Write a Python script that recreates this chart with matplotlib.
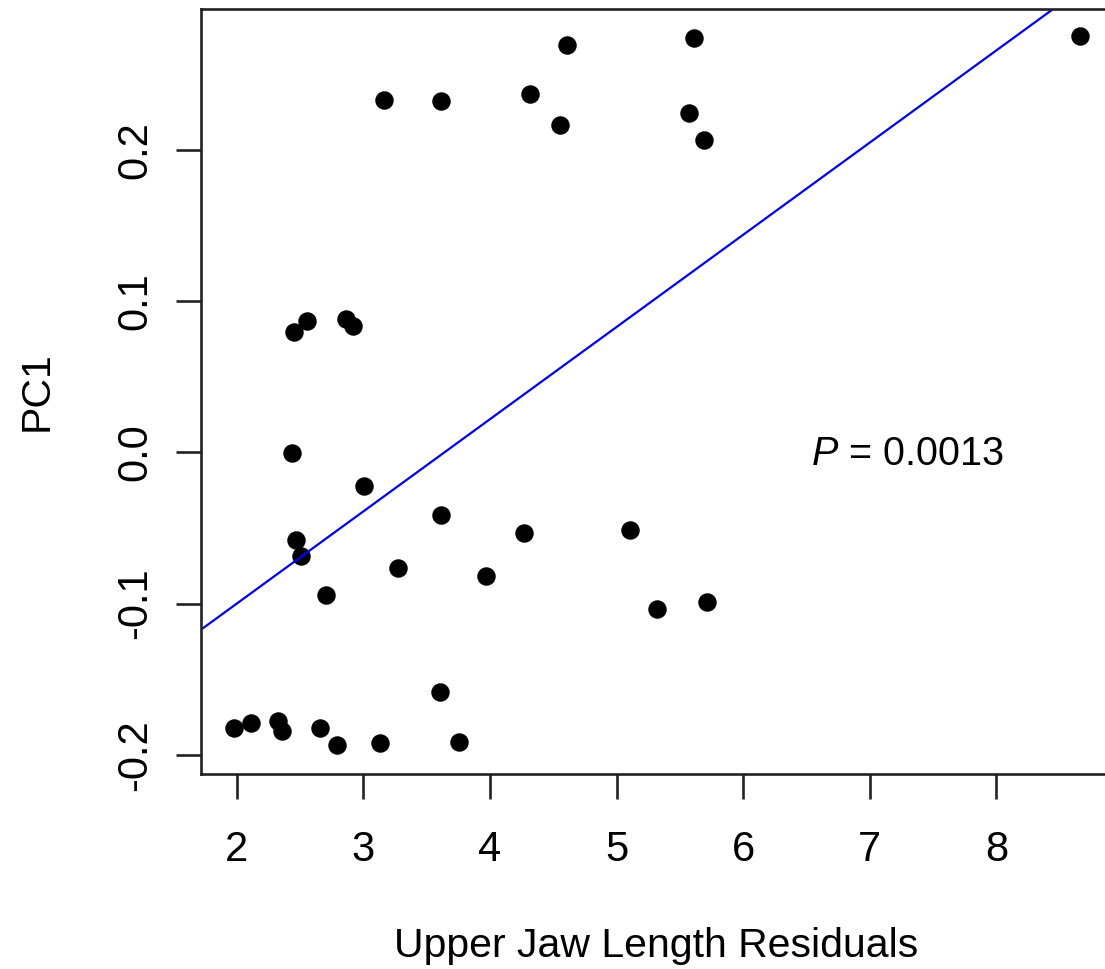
import numpy as np
import matplotlib
matplotlib.use('Agg')
import matplotlib.pyplot as plt

# values
jaw_resid = [3.166, 3.614, 4.317, 4.554, 4.607, 5.615, 5.573, 5.691, 8.659,
             2.455, 2.558, 2.861, 2.916,
             2.434, 3.006, 3.614, 2.468, 2.506, 3.276, 4.272, 5.109, 3.967,
             2.705, 5.322, 5.712,
             3.608, 1.976, 2.113, 2.329, 2.355, 2.658, 2.790, 3.132, 3.756]
pc1 = [0.2329, 0.2324, 0.2370, 0.2163, 0.2692, 0.2739, 0.2247, 0.2066, 0.2754,
       0.0798, 0.0869, 0.0880, 0.0836,
       -0.0006, -0.0222, -0.0413, -0.0577, -0.0687, -0.0762, -0.0531, -0.0511, -0.0819,
       -0.0942, -0.1037, -0.0989,
       -0.1585, -0.1825, -0.1788, -0.1774, -0.1841, -0.1823, -0.1937, -0.1924, -0.1915]

# regression line (abline)
fit_intercept = -0.2220
fit_slope = 0.0610

x_ticks = [2, 3, 4, 5, 6, 7, 8]
y_ticks = [-0.2, -0.1, 0.0, 0.1, 0.2]
y_tick_labels = ['-0.2', '-0.1', '0.0', '0.1', '0.2']
p_label = r'$P$ = 0.0013'


def plot_pc1(x, y) -> None:
    plt.rcParams['font.family'] = ['Liberation Sans', 'DejaVu Sans']
    plt.rcParams['mathtext.fontset'] = 'custom'
    plt.rcParams['mathtext.rm'] = 'Liberation Sans'
    plt.rcParams['mathtext.it'] = 'Liberation Sans:italic'

    fig = plt.figure(figsize=(11.05, 9.69), dpi=100)
    # right edge of the box falls just outside the picture, as in the original
    ax = fig.add_axes([201 / 1105, 195 / 969, 912 / 1105, 765 / 969])

    ax.plot(x, y, 'o', color='black', markersize=13.3, markeredgewidth=0)

    xlim = (1.718, 8.92)
    xs = np.array(xlim)
    ax.plot(xs, fit_intercept + fit_slope * xs, color='#0000ff', linewidth=1.6)

    ax.set_xlim(*xlim)
    ax.set_ylim(-0.2127, 0.2933)

    ax.set_xticks(x_ticks)
    ax.set_xticklabels([str(t) for t in x_ticks])
    ax.set_yticks(y_ticks)
    ax.set_yticklabels(y_tick_labels)

    for sp in ax.spines.values():
        sp.set_linewidth(1.9)
        sp.set_color('#222222')
    ax.tick_params(axis='both', length=18, width=1.9, color='#222222', labelsize=30)
    ax.tick_params(axis='x', pad=22)
    ax.tick_params(axis='y', pad=15, labelrotation=90)
    for lab in ax.get_yticklabels():
        lab.set_verticalalignment('center')

    ax.text(7.295, -0.0083, p_label, fontsize=28.5, ha='center', va='baseline')

    fig.text(656.5 / 1105, (969 - 957) / 969, 'Upper Jaw Length Residuals',
             fontsize=29.5, ha='center', va='baseline')
    fig.text(48 / 1105, (969 - 391.5) / 969, 'PC1', fontsize=29.5, rotation=90,
             rotation_mode='anchor', ha='center', va='baseline')

    fig.savefig('out.png', dpi=100)


if __name__ == '__main__':
    plot_pc1(jaw_resid, pc1)
